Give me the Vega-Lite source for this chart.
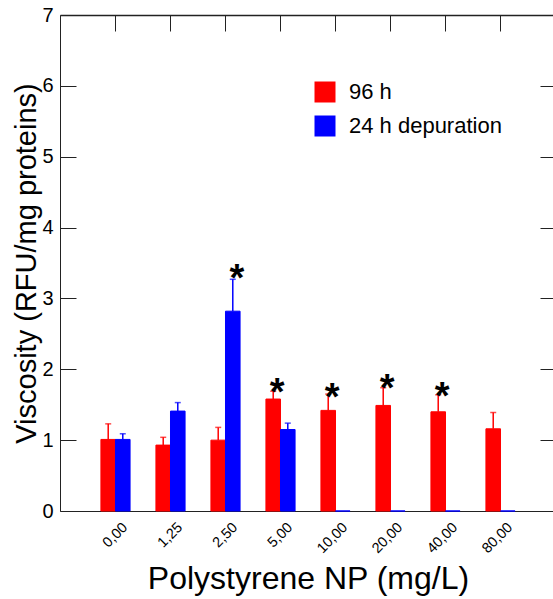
{
  "$schema": "https://vega.github.io/schema/vega-lite/v6.json",
  "width": 493,
  "height": 496,
  "autosize": {"type": "none"},
  "padding": {"left": 60, "top": 15, "right": 0, "bottom": 88},
  "background": "white",
  "config": {
    "font": "Liberation Sans",
    "view": {"stroke": null},
    "axis": {"grid": false, "domainColor": "#222222", "tickColor": "#222222", "labelColor": "black", "titleColor": "black", "labelFont": "Liberation Sans", "titleFont": "Liberation Sans", "titleFontWeight": "normal"}
  },
  "datasets": {
    "bars": [
      {"conc": "0,00", "group": "96 h", "value": 1.01, "err": 1.23},
      {"conc": "0,00", "group": "24 h depuration", "value": 1.01, "err": 1.09},
      {"conc": "1,25", "group": "96 h", "value": 0.93, "err": 1.04},
      {"conc": "1,25", "group": "24 h depuration", "value": 1.41, "err": 1.53},
      {"conc": "2,50", "group": "96 h", "value": 1.0, "err": 1.18},
      {"conc": "2,50", "group": "24 h depuration", "value": 2.82, "err": 3.27},
      {"conc": "5,00", "group": "96 h", "value": 1.58, "err": 1.69},
      {"conc": "5,00", "group": "24 h depuration", "value": 1.15, "err": 1.24},
      {"conc": "10,00", "group": "96 h", "value": 1.42, "err": 1.65},
      {"conc": "10,00", "group": "24 h depuration", "value": 0, "err": null},
      {"conc": "20,00", "group": "96 h", "value": 1.49, "err": 1.74},
      {"conc": "20,00", "group": "24 h depuration", "value": 0, "err": null},
      {"conc": "40,00", "group": "96 h", "value": 1.4, "err": 1.64},
      {"conc": "40,00", "group": "24 h depuration", "value": 0, "err": null},
      {"conc": "80,00", "group": "96 h", "value": 1.16, "err": 1.39},
      {"conc": "80,00", "group": "24 h depuration", "value": 0, "err": null}
    ],
    "stars": [
      {"conc": "2,50", "group": "24 h depuration", "pos": 3.42, "label": "*"},
      {"conc": "5,00", "group": "96 h", "pos": 1.8, "label": "*"},
      {"conc": "10,00", "group": "96 h", "pos": 1.73, "label": "*"},
      {"conc": "20,00", "group": "96 h", "pos": 1.86, "label": "*"},
      {"conc": "40,00", "group": "96 h", "pos": 1.75, "label": "*"}
    ]
  },
  "resolve": {"axis": {"x": "independent", "y": "independent"}},
  "layer": [
    {
      "data": {"name": "bars"},
      "mark": {"type": "bar", "strokeWidth": 1},
      "encoding": {
        "x": {
          "field": "conc", "type": "nominal", "sort": null,
          "scale": {"domain": ["0,00", "1,25", "2,50", "5,00", "10,00", "20,00", "40,00", "80,00"], "range": [0, 496], "paddingInner": 0.47, "paddingOuter": 0.744},
          "axis": {"orient": "bottom", "ticks": false, "domain": true, "labelAngle": -45, "labelAlign": "right", "labelBaseline": "middle", "labelFontSize": 14.5, "labelOffset": 10, "labelPadding": 14, "title": "Polystyrene NP (mg/L)", "titleFontSize": 32, "titleY": 77, "titleBaseline": "alphabetic"}
        },
        "xOffset": {"field": "group", "type": "nominal", "sort": ["96 h", "24 h depuration"], "scale": {"domain": ["96 h", "24 h depuration"]}},
        "y": {
          "field": "value", "type": "quantitative",
          "scale": {"domain": [0, 7], "nice": false},
          "axis": {"orient": "left", "values": [0, 1, 2, 3, 4, 5, 6, 7], "format": "d", "tickSize": -16, "labelFontSize": 20, "labelPadding": 23, "labelFlush": false, "labelBaseline": "middle", "title": "Viscosity (RFU/mg proteins)", "titleFontSize": 29, "titleX": -25, "titleY": 248, "titleBaseline": "alphabetic", "titleAngle": -90}
        },
        "color": {
          "field": "group", "type": "nominal",
          "scale": {"domain": ["96 h", "24 h depuration"], "range": ["#ff0000", "#0000ff"]},
          "legend": {"title": null, "orient": "none", "legendX": 254, "legendY": 66, "padding": 0, "symbolType": "square", "symbolSize": 441, "symbolStrokeWidth": 0, "symbolOpacity": 1, "labelFontSize": 22, "labelOffset": 13, "rowPadding": 12, "labelColor": "black"}
        },
        "stroke": {"field": "group", "type": "nominal", "scale": {"domain": ["96 h", "24 h depuration"], "range": ["#ff0000", "#0000ff"]}, "legend": null}
      }
    },
    {
      "data": {"name": "bars"},
      "mark": {"type": "rule", "strokeWidth": 1.5},
      "encoding": {
        "x": {"field": "conc", "type": "nominal", "sort": null,
          "axis": {"orient": "top", "labels": false, "title": null, "tickSize": -16, "domain": true, "domainWidth": 1.5}},
        "xOffset": {"field": "group", "type": "nominal", "sort": ["96 h", "24 h depuration"]},
        "y": {"field": "value", "type": "quantitative",
          "axis": {"orient": "right", "offset": 3, "labels": false, "title": null, "values": [0, 1, 2, 3, 4, 5, 6, 7], "tickSize": -16, "domain": false}},
        "y2": {"field": "err"},
        "color": {"field": "group", "type": "nominal", "legend": null}
      }
    },
    {
      "data": {"name": "bars"},
      "mark": {"type": "tick", "thickness": 1.5, "size": 6},
      "encoding": {
        "x": {"field": "conc", "type": "nominal", "sort": null, "axis": null},
        "xOffset": {"field": "group", "type": "nominal", "sort": ["96 h", "24 h depuration"]},
        "y": {"field": "err", "type": "quantitative", "axis": null},
        "color": {"field": "group", "type": "nominal", "legend": null}
      }
    },
    {
      "data": {"name": "stars"},
      "mark": {"type": "text", "fontSize": 38, "fontWeight": "bold", "baseline": "alphabetic", "dy": 22, "dx": 4, "color": "black"},
      "encoding": {
        "x": {"field": "conc", "type": "nominal", "sort": null, "axis": null},
        "xOffset": {"field": "group", "type": "nominal", "sort": ["96 h", "24 h depuration"]},
        "y": {"field": "pos", "type": "quantitative", "axis": null},
        "text": {"field": "label"}
      }
    }
  ]
}
